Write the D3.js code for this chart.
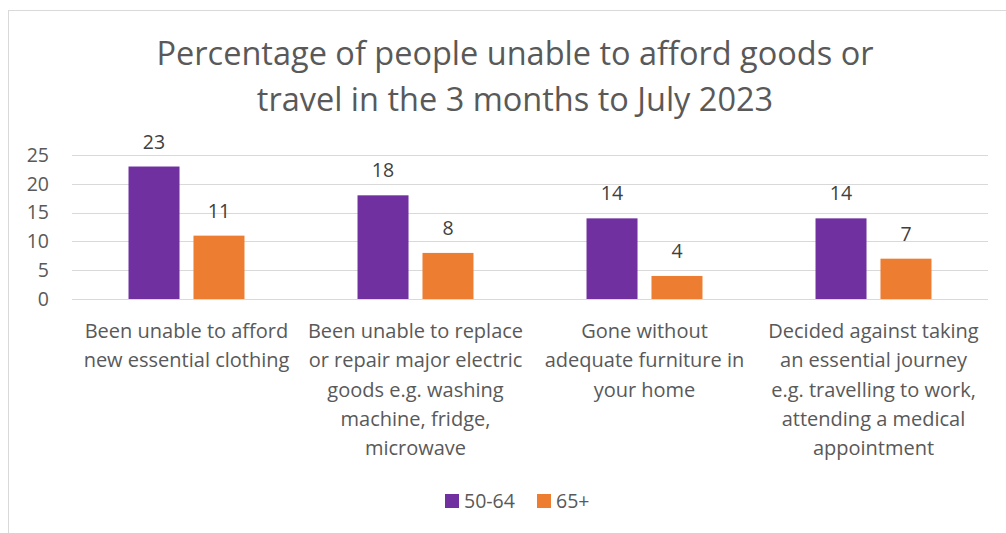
<!DOCTYPE html>
<html>
<head>
<meta charset="utf-8">
<script src="https://cdn.jsdelivr.net/npm/d3@7"></script>
<style>
  html, body { margin: 0; padding: 0; background: #fff; }
  svg { display: block; }
  text { font-family: "Open Sans", "Noto Sans", sans-serif; }
</style>
</head>
<body>
<svg id="chart" width="1006" height="533"></svg>
<script>
const titleLines = ["Percentage of people unable to afford goods or", "travel in the 3 months to July 2023"];
const categories = [
  ["Been unable to afford", "new essential clothing"],
  ["Been unable to replace", "or repair major electric", "goods e.g. washing", "machine, fridge,", "microwave"],
  ["Gone without", "adequate furniture in", "your home"],
  ["Decided against taking", "an essential journey", "e.g. travelling to work,", "attending a medical", "appointment"]
];
const seriesNames = ["50-64", "65+"];
const values5064 = [23, 18, 14, 14];
const values65 = [11, 8, 4, 7];
const yTicks = [0, 5, 10, 15, 20, 25];
const colors = ["#7030A0", "#ED7D31"];

const svg = d3.select("#chart");
const plot = { left: 72, right: 988, top: 155, bottom: 299 };

// chart frame
svg.append("rect").attr("x", 8.5).attr("y", 10.5).attr("width", 1010).attr("height", 540)
  .attr("fill", "#fff").attr("stroke", "#D9D9D9").attr("stroke-width", 1);

// title
svg.append("g").selectAll("text").data(titleLines).join("text")
  .attr("x", 515).attr("y", (d, i) => 65 + i * 46)
  .attr("text-anchor", "middle").attr("font-size", 32.5).attr("fill", "#595959")
  .text(d => d);

const idx = d3.range(categories.length);
const x0 = d3.scaleBand().domain(idx).range([plot.left, plot.right]);
const x1 = d3.scaleBand().domain([0, 1]).range([0, x0.bandwidth()]).paddingInner(0.215).paddingOuter(0.87);
const y = d3.scaleLinear().domain([0, 25]).range([plot.bottom, plot.top]);

// gridlines
svg.append("g").selectAll("line").data(yTicks).join("line")
  .attr("x1", plot.left).attr("x2", plot.right)
  .attr("y1", d => Math.round(y(d)) + 0.5).attr("y2", d => Math.round(y(d)) + 0.5)
  .attr("stroke", "#D9D9D9").attr("stroke-width", 1.2);

// y axis labels
const yAxis = svg.append("g").attr("transform", `translate(${plot.left - 23},0)`)
  .call(d3.axisLeft(y).tickValues(yTicks).tickSize(0).tickPadding(0));
yAxis.select(".domain").remove();
yAxis.selectAll("text").attr("font-size", 19.5).attr("fill", "#595959")
  .attr("font-family", "Open Sans, sans-serif");

const series = [values5064, values65];
const bars = [];
series.forEach((vals, s) => vals.forEach((v, i) => bars.push({ s, i, v })));

svg.append("g").selectAll("rect").data(bars).join("rect")
  .attr("x", d => x0(d.i) + x1(d.s))
  .attr("y", d => y(d.v))
  .attr("width", x1.bandwidth())
  .attr("height", d => y(0) - y(d.v))
  .attr("fill", d => colors[d.s]);

// value labels
svg.append("g").selectAll("text").data(bars).join("text")
  .attr("x", d => x0(d.i) + x1(d.s) + x1.bandwidth() / 2)
  .attr("y", d => y(d.v) - 18)
  .attr("text-anchor", "middle").attr("font-size", 19.5).attr("fill", "#404040")
  .text(d => d.v);

// category labels
const cat = svg.append("g").selectAll("text").data(categories).join("text")
  .attr("text-anchor", "middle").attr("font-size", 20).attr("fill", "#595959");
cat.each(function (lines, i) {
  d3.select(this).selectAll("tspan").data(lines).join("tspan")
    .attr("x", x0(i) + x0.bandwidth() / 2)
    .attr("y", (d, j) => 338 + j * 29.3)
    .text(d => d);
});

// legend
const legend = svg.append("g");
const legendX = [445, 537];
seriesNames.forEach((name, s) => {
  legend.append("rect").attr("x", legendX[s]).attr("y", 494).attr("width", 14).attr("height", 14).attr("fill", colors[s]);
  legend.append("text").attr("x", legendX[s] + 19).attr("y", 508).attr("font-size", 19.5).attr("fill", "#595959").text(name);
});
</script>
</body>
</html>
